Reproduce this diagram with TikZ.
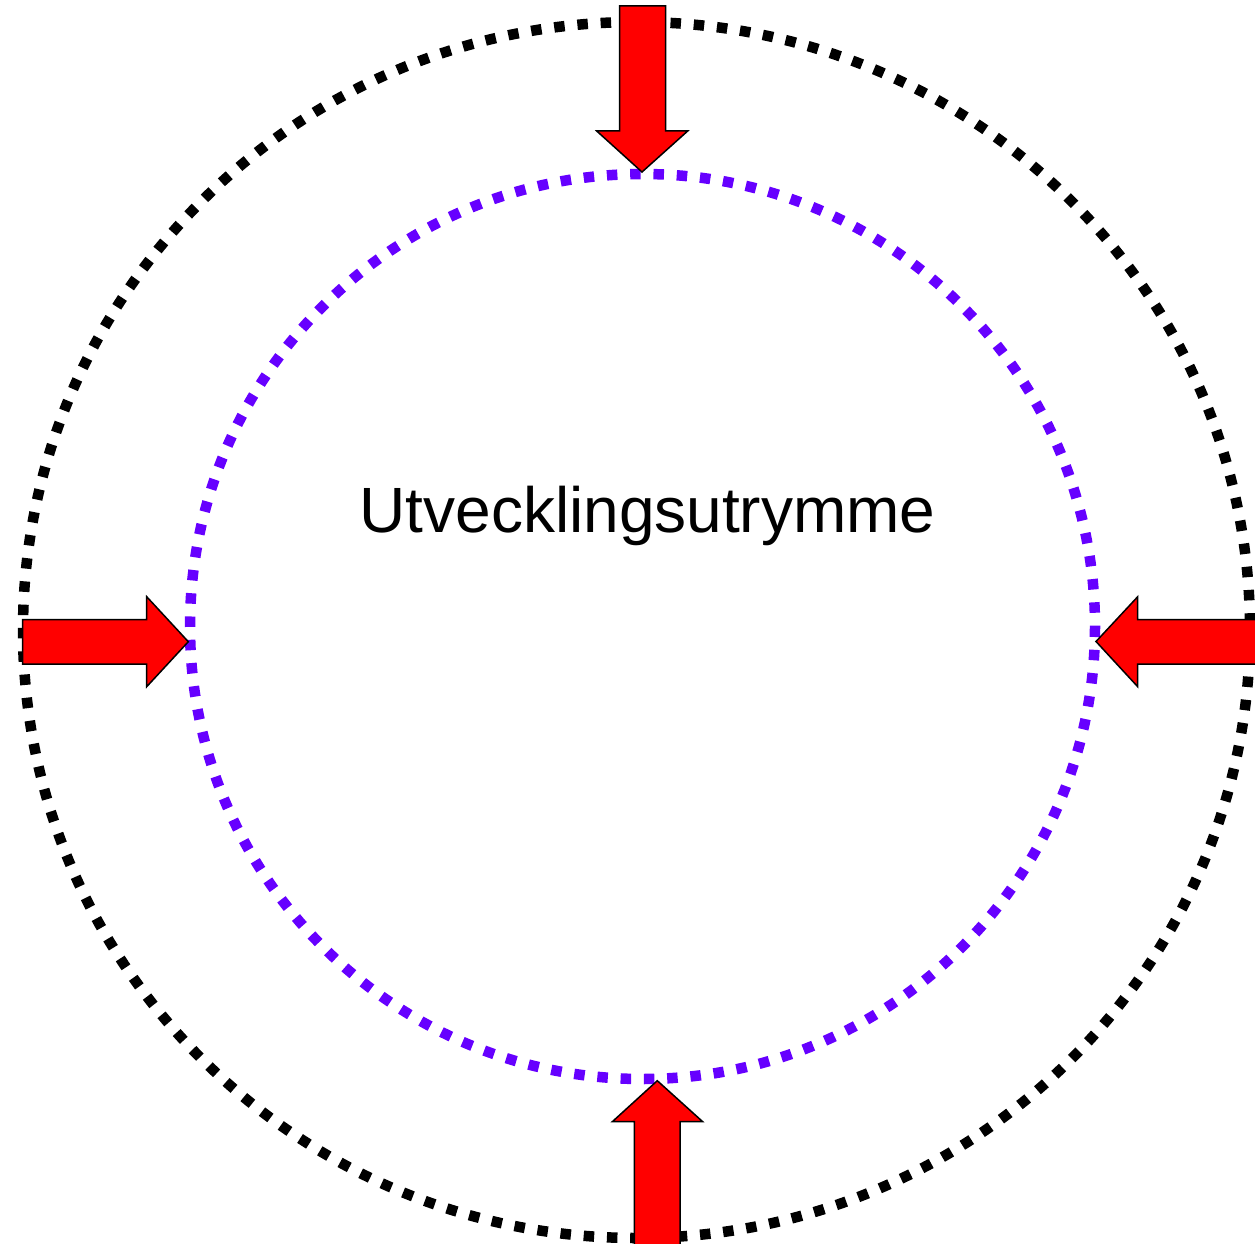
\documentclass[tikz,border=0pt]{standalone}
\usepackage{fontspec}
\setmainfont{Liberation Sans}
\definecolor{ringpurple}{RGB}{102,0,255}
\begin{document}
\begin{tikzpicture}[x=1pt,y=-1pt,
  ring/.style={line width=10.5pt, dash pattern=on 10.5pt off 12.8pt},
  bigarrow/.style={fill=red, draw=black, line width=1.5pt, line join=miter}]
\useasboundingbox (0,0) rectangle (1255,1244);
\clip (0,0) rectangle (1255,1244);
% rings
\draw[ring, black] (636.5,630) ellipse [x radius=613.5, y radius=608];
\draw[ring, ringpurple] (642.5,626.5) circle [radius=452.5];
% top arrow (down)
\draw[bigarrow] (619.5,6) -- (665.5,6) -- (665.5,131) -- (687.7,131) -- (642,172) -- (596.7,131) -- (619.5,131) -- cycle;
% left arrow (right)
\draw[bigarrow] (22.7,619.5) -- (146.7,619.5) -- (146.7,596.7) -- (188.3,641.7) -- (146.7,686.7) -- (146.7,664) -- (22.7,664) -- cycle;
% right arrow (left)
\draw[bigarrow] (1265,619.5) -- (1137.7,619.5) -- (1137.7,596.7) -- (1096,641.5) -- (1137.7,686.7) -- (1137.7,664) -- (1265,664) -- cycle;
% bottom arrow (up)
\draw[bigarrow] (634.3,1255) -- (634.3,1121.7) -- (612.3,1121.7) -- (657.3,1080.7) -- (702.7,1121.7) -- (680,1121.7) -- (680,1255) -- cycle;
% label
\node[anchor=base, inner sep=0pt, font=\fontsize{64}{68}\selectfont] (label) at (647.5,532) {Utvecklingsutrymme};
\end{tikzpicture}
\end{document}
